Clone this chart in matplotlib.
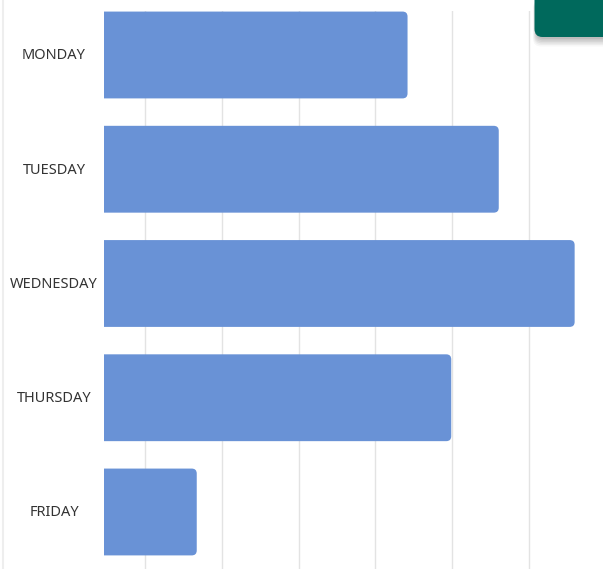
import numpy as np
import matplotlib.pyplot as plt
from matplotlib.patches import FancyBboxPatch, PathPatch
from matplotlib.path import Path

plt.rcParams['font.family'] = ['Noto Sans', 'DejaVu Sans']

# weekday totals
days = ["MONDAY", "TUESDAY", "WEDNESDAY", "THURSDAY", "FRIDAY"]
counts = [39.6, 51.5, 61.4, 45.3, 12.1]
grid_ticks = [5.4, 15.4, 25.4, 35.4, 45.4, 55.4]

W, H = 603, 569
fig = plt.figure(figsize=(W / 100, H / 100), dpi=100)
fig.patch.set_facecolor('white')

ax = fig.add_axes([104 / W, 0, 499 / W, (H - 11) / H])
ypos = np.arange(len(days))
bar_h = 0.76
bars = ax.barh(ypos, counts, height=bar_h, color='#6992d6', zorder=2)


def right_rounded(x0, y0, w, h, rx, ry):
    # bar outline with square left end and rounded right corners
    x1, y1 = x0 + w, y0 + h
    verts = [(x0, y0), (x1 - rx, y0), (x1, y0), (x1, y0 + ry),
             (x1, y1 - ry), (x1, y1), (x1 - rx, y1), (x0, y1), (x0, y0)]
    codes = [Path.MOVETO, Path.LINETO, Path.CURVE3, Path.CURVE3,
             Path.LINETO, Path.CURVE3, Path.CURVE3, Path.LINETO, Path.CLOSEPOLY]
    return Path(verts, codes)


px_x = 499 / 65.1
px_y = 114.25
for b in bars:
    b.set_visible(False)
    p = right_rounded(b.get_x(), b.get_y(), b.get_width(), b.get_height(),
                      5 / px_x, 5 / px_y)
    ax.add_patch(PathPatch(p, fc='#6992d6', ec='none', zorder=2))

ax.set_xlim(0, 65.1)
ax.set_ylim(4.499, -0.385)
ax.set_xticks(grid_ticks)
ax.xaxis.grid(True, color='#e3e3e3', linewidth=1, zorder=0)
ax.set_axisbelow(True)
ax.tick_params(axis='both', length=0, labelbottom=False, labelleft=False)
ax.set_yticks(ypos)
for s in ax.spines.values():
    s.set_visible(False)

for d, yp in zip(days, ypos):
    ax.annotate(d, xy=(0, yp), xycoords=('axes fraction', 'data'),
                xytext=(-50, -1), textcoords='offset pixels',
                ha='center', va='center', fontsize=10.5, color='#333333')

# thin border on the left edge
fig.add_artist(plt.Line2D([2.5 / W, 2.5 / W], [0, 1], color='#eeeeee', lw=1.5))

# teal button with drop shadow in the top-right corner
for i, a in enumerate([0.05, 0.05, 0.05, 0.05, 0.04, 0.03]):
    off = 2 + i * 1.5
    fig.add_artist(FancyBboxPatch((536 / W - i * 0.6 / W, (H - 37 - off) / H),
                                  80 / W, (37 + off) / H,
                                  boxstyle=f"round,pad=0,rounding_size={8 / W}",
                                  mutation_aspect=W / H,
                                  fc='black', ec='none', alpha=a,
                                  transform=fig.transFigure))
fig.add_artist(FancyBboxPatch((534.5 / W, (H - 37) / H), 80 / W, 45 / H,
                              boxstyle=f"round,pad=0,rounding_size={8 / W}",
                              mutation_aspect=W / H,
                              fc='#00695c', ec='none',
                              transform=fig.transFigure))

fig.savefig('out.png', dpi=100)
